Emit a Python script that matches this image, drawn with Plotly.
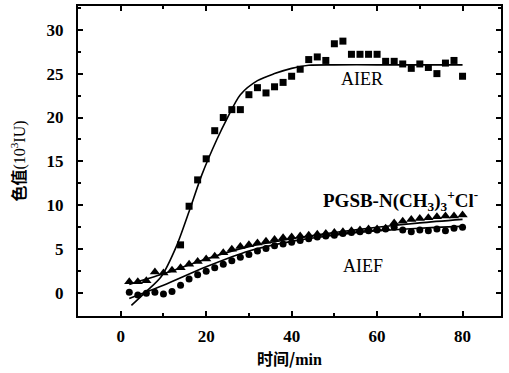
import plotly.graph_objects as go

# AIER (squares)
aier_t = [14, 16, 18, 20, 22, 24, 26, 28, 30, 32, 34, 36, 38, 40, 42, 44, 46, 48, 50, 52,
          54, 56, 58, 60, 62, 64, 66, 68, 70, 72, 74, 76, 78, 80]
aier_v = [5.5, 9.9, 12.9, 15.3, 18.5, 20.0, 20.9, 20.9, 22.6, 23.4, 22.8, 23.5, 24.0, 24.7,
          25.5, 26.6, 26.9, 26.5, 28.4, 28.7, 27.2, 27.2, 27.2, 27.2, 26.4, 26.4, 26.1, 25.6,
          26.1, 25.7, 25.0, 26.2, 26.5, 24.7]
aier_fit_t = [2.5, 6, 9.5, 13, 16, 19, 22.5, 25, 28, 32, 36, 40, 44, 50, 60, 70, 80]
aier_fit_v = [-1.4, 0.2, 1.9, 5.3, 9.3, 13.5, 17.5, 20.0, 22.6, 24.2, 25.0, 25.6, 25.95, 26.0,
              26.0, 26.0, 26.0]

# PGSB-N(CH3)3+Cl- (triangles)
pgsb_t = list(range(2, 82, 2))
pgsb_v = [1.3, 1.3, 1.4, 2.4, 2.3, 2.6, 2.9, 3.3, 3.6, 3.9, 4.2, 4.6, 5.0, 5.3, 5.5, 5.7,
          5.9, 6.1, 6.3, 6.4, 6.5, 6.6, 6.7, 6.8, 6.9, 7.0, 7.1, 7.2, 7.3, 7.3, 7.4, 8.0,
          8.2, 8.4, 8.5, 8.6, 8.7, 8.8, 8.8, 8.9]
pgsb_fit_t = [2, 10, 20, 30, 40, 50, 60, 70, 80]
pgsb_fit_v = [1.0, 2.2, 3.9, 5.3, 6.2, 6.9, 7.5, 8.0, 8.4]

# AIEF (circles)
aief_t = list(range(2, 82, 2))
aief_v = [0.1, -0.2, 0.0, 0.1, -0.1, 0.2, 0.9, 1.6, 2.1, 2.5, 2.9, 3.3, 3.7, 4.1, 4.4, 4.8,
          5.1, 5.4, 5.6, 5.8, 6.0, 6.2, 6.4, 6.5, 6.6, 6.8, 6.9, 7.0, 7.1, 7.2, 7.3, 7.5,
          7.2, 7.0, 7.2, 7.1, 7.3, 7.1, 7.4, 7.5]
aief_fit_t = [2, 10, 20, 30, 40, 50, 60, 70, 80]
aief_fit_v = [-0.6, 0.9, 3.0, 4.8, 5.9, 6.6, 7.1, 7.4, 7.6]

x_ticks = [0, 20, 40, 60, 80]
y_ticks = [0, 5, 10, 15, 20, 25, 30]

SERIF = "Liberation Serif"
CJK = "Noto Sans CJK SC"

fig = go.Figure()
line_style = dict(color="black", width=1.6, shape="spline", smoothing=0.8)
for t, v in [(aier_fit_t, aier_fit_v), (pgsb_fit_t, pgsb_fit_v), (aief_fit_t, aief_fit_v)]:
    fig.add_trace(go.Scatter(x=t, y=v, mode="lines", line=line_style, showlegend=False,
                             hoverinfo="skip"))
fig.add_trace(go.Scatter(x=aier_t, y=aier_v, mode="markers",
                         marker=dict(symbol="square", size=7, color="black"), showlegend=False))
fig.add_trace(go.Scatter(x=pgsb_t, y=pgsb_v, mode="markers",
                         marker=dict(symbol="triangle-up", size=9, color="black"), showlegend=False))
fig.add_trace(go.Scatter(x=aief_t, y=aief_v, mode="markers",
                         marker=dict(symbol="circle", size=7, color="black"), showlegend=False))

fig.add_annotation(x=56.4, y=24.4, text="AIER", showarrow=False,
                   font=dict(family=SERIF, size=18, color="black"))
fig.add_annotation(x=65.5, y=10.6, showarrow=False,
                   text="<b>PGSB-N(CH<sub>3</sub>)<sub>3</sub><sup>+</sup>Cl<sup>-</sup></b>",
                   font=dict(family=SERIF, size=19, color="black"))
fig.add_annotation(x=56.6, y=3.1, text="AIEF", showarrow=False,
                   font=dict(family=SERIF, size=18, color="black"))

axis_common = dict(showline=True, linecolor="black", linewidth=2, mirror="allticks",
                   ticks="inside", ticklen=5, tickcolor="black", tickwidth=1.5,
                   showgrid=False, zeroline=False, automargin=False,
                   tickfont=dict(family=SERIF, size=17, color="black"))

fig.update_xaxes(range=[-10, 89], tickmode="array", tickvals=x_ticks,
                 ticktext=[f"<b>{v}</b>" for v in x_ticks], ticklabelstandoff=4,
                 minor=dict(ticks="inside", ticklen=3, dtick=10, tickcolor="black"),
                 title=dict(text="<b>时间/<span style='font-family:Liberation Serif'>min</span></b>",
                            font=dict(family=CJK, size=16, color="black"),
                            standoff=2),
                 **axis_common)
fig.update_yaxes(range=[-2.6, 32.7], tickmode="array", tickvals=y_ticks,
                 ticktext=[f"<b>{v}</b>" for v in y_ticks], ticklabelstandoff=9,
                 minor=dict(ticks="inside", ticklen=3, dtick=2.5, tickcolor="black"),
                 title=dict(text="<b>色值</b><span style='font-family:Liberation Serif'>(10<sup>3</sup>IU)</span>",
                            font=dict(family=CJK, size=16, color="black"), standoff=17),
                 **axis_common)

fig.update_layout(width=509, height=373, margin=dict(l=78, r=8, t=6, b=57),
                  plot_bgcolor="white", paper_bgcolor="white")

fig.write_html("out.html", config={"displayModeBar": False},
               post_script="document.body.style.margin='0';")
